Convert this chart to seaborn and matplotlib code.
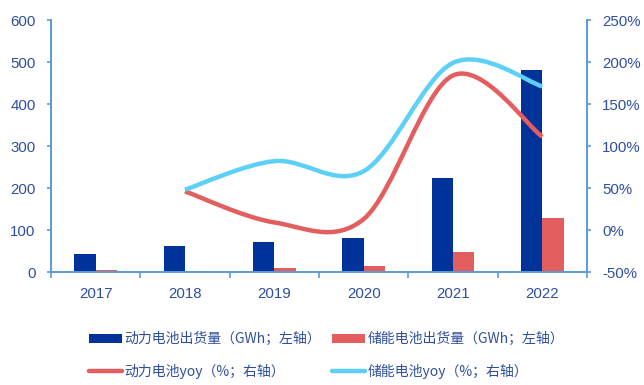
import matplotlib
matplotlib.use("Agg")
import matplotlib.pyplot as plt
from matplotlib import font_manager
from matplotlib.path import Path
from matplotlib.patches import PathPatch, Patch
from matplotlib.lines import Line2D
from matplotlib.ticker import FuncFormatter, FixedLocator
import numpy as np
import pandas as pd
import seaborn as sns

# ---- data ----
years = ["2017", "2018", "2019", "2020", "2021", "2022"]
power_gwh = [44, 63, 71, 80, 223, 480]        # 动力电池出货量 (GWh)
storage_gwh = [4, 3, 9, 15, 47, 128]          # 储能电池出货量 (GWh)
power_yoy = [None, 46, 9, 13, 184, 111]       # 动力电池 yoy (%)
storage_yoy = [None, 48, 82, 70, 199, 171]    # 储能电池 yoy (%)

left_ticks = [0, 100, 200, 300, 400, 500, 600]
right_ticks = [-50, 0, 50, 100, 150, 200, 250]

lbl_power_bar = "动力电池出货量（GWh；左轴）"
lbl_storage_bar = "储能电池出货量（GWh；左轴）"
lbl_power_line = "动力电池yoy（%；右轴）"
lbl_storage_line = "储能电池yoy（%；右轴）"

# ---- style ----
c_navy = "#003399"
c_red = "#E35E5E"
c_cyan = "#5CD0F7"
c_axis = "#5B9BD5"
c_text = "#2E4F9E"

sns.set_theme(style="white")
installed = {f.name for f in font_manager.fontManager.ttflist}
if "Liberation Sans Narrow" in installed:
    num_family, num_size = "Liberation Sans Narrow", 12.5
else:
    num_family, num_size = "Liberation Sans", 10.8
plt.rcParams["font.family"] = ["Noto Sans CJK SC", "DejaVu Sans"]

fig = plt.figure(figsize=(6.44, 3.85), dpi=100)
ax = fig.add_axes([51 / 644, 113 / 385, 536 / 644, 252 / 385])

# ---- bars ----
df = pd.DataFrame({
    "year": years * 2,
    "value": power_gwh + storage_gwh,
    "series": [lbl_power_bar] * len(years) + [lbl_storage_bar] * len(years),
})
sns.barplot(data=df, x="year", y="value", hue="series",
            palette=[c_navy, c_red], saturation=1, width=0.48,
            linewidth=0, legend=False, ax=ax)

ax.set_xlim(-0.5, len(years) - 0.5)
ax.set_ylim(0, 600)
ax.set_xlabel("")
ax.set_ylabel("")
ax.set_yticks(left_ticks)

# ---- smoothed yoy curves on the right axis ----
ax2 = ax.twinx()
ax2.set_ylim(-50, 250)
ax2.set_yticks(right_ticks)
ax2.yaxis.set_major_formatter(FuncFormatter(lambda v, _: f"{v:.0f}%"))


def smooth_path(xs, ys):
    pts = [(x, y) for x, y in zip(xs, ys) if y is not None]
    verts = [pts[0]]
    codes = [Path.MOVETO]
    for i in range(len(pts) - 1):
        p0 = pts[i - 1] if i > 0 else pts[i]
        p1 = pts[i]
        p2 = pts[i + 1]
        p3 = pts[i + 2] if i + 2 < len(pts) else pts[i + 1]
        c1 = (p1[0] + (p2[0] - p0[0]) / 6, p1[1] + (p2[1] - p0[1]) / 6)
        c2 = (p2[0] - (p3[0] - p1[0]) / 6, p2[1] - (p3[1] - p1[1]) / 6)
        verts += [c1, c2, p2]
        codes += [Path.CURVE4] * 3
    return Path(verts, codes)


xpos = list(range(len(years)))
for vals, col in [(power_yoy, c_red), (storage_yoy, c_cyan)]:
    ax2.add_patch(PathPatch(smooth_path(xpos, vals), facecolor="none",
                            edgecolor=col, lw=3.2, capstyle="butt",
                            joinstyle="round"))

# ---- axes styling ----
for a in (ax, ax2):
    a.spines["top"].set_visible(False)
    a.grid(False)
ax.spines["right"].set_visible(False)
ax2.spines["left"].set_visible(False)
ax2.spines["bottom"].set_visible(False)
for sp in ("left", "bottom"):
    ax.spines[sp].set_color(c_axis)
    ax.spines[sp].set_linewidth(1.4)
ax2.spines["right"].set_color(c_axis)
ax2.spines["right"].set_linewidth(1.4)

ax.xaxis.set_minor_locator(FixedLocator(np.arange(-0.5, len(years), 1.0)))
ax.tick_params(axis="x", which="major", length=0, pad=11)
ax.tick_params(axis="x", which="minor", bottom=True, length=4, width=1.2,
               color=c_axis, direction="out")
ax.tick_params(axis="y", left=True, length=3, width=1.2, color=c_axis,
               direction="out", pad=8)
ax2.tick_params(axis="y", right=True, length=3, width=1.2, color=c_axis,
                direction="out", pad=8)

for lab in ax.get_xticklabels() + ax.get_yticklabels() + ax2.get_yticklabels():
    lab.set_family([num_family, "DejaVu Sans"])
    lab.set_fontsize(num_size)
    lab.set_color(c_text)

# ---- legend ----
handles = [
    Patch(facecolor=c_navy, edgecolor="none"),
    Line2D([], [], color=c_red, lw=3.2),
    Patch(facecolor=c_red, edgecolor="none"),
    Line2D([], [], color=c_cyan, lw=3.2),
]
labels = [lbl_power_bar, lbl_power_line, lbl_storage_bar, lbl_storage_line]
leg = fig.legend(handles, labels, ncol=2, frameon=False,
                 loc="center left", bbox_to_anchor=(89 / 644, 1 - 355.5 / 385),
                 prop={"family": ["Noto Sans CJK SC", "DejaVu Sans"], "size": 10},
                 handlelength=2.35, handleheight=0.65, handletextpad=0.2,
                 columnspacing=0.8, labelspacing=1.3,
                 borderpad=0, borderaxespad=0)
for t in leg.get_texts():
    t.set_color(c_text)

fig.savefig("out.png", dpi=100, facecolor="white")
